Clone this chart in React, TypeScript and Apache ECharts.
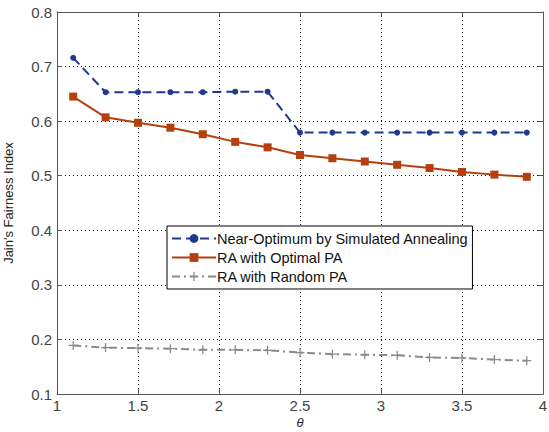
import React, { useEffect, useRef } from "react";
import * as echarts from "echarts";

// θ values shared by all curves
const theta = [1.1, 1.3, 1.5, 1.7, 1.9, 2.1, 2.3, 2.5, 2.7, 2.9, 3.1, 3.3, 3.5, 3.7, 3.9];

const nearOptimum = [0.716, 0.653, 0.653, 0.653, 0.653, 0.654, 0.654, 0.579, 0.579, 0.579, 0.579, 0.579, 0.579, 0.579, 0.579];
const optimalPA = [0.645, 0.607, 0.597, 0.588, 0.576, 0.562, 0.552, 0.538, 0.532, 0.526, 0.520, 0.514, 0.507, 0.502, 0.498];
const randomPA = [0.189, 0.185, 0.184, 0.183, 0.181, 0.181, 0.180, 0.176, 0.173, 0.172, 0.171, 0.167, 0.166, 0.163, 0.161];

const seriesNames = [
  "Near-Optimum by Simulated Annealing",
  "RA with Optimal PA",
  "RA with Random PA",
];

const pair = (ys: number[]) => theta.map((x, i) => [x, ys[i]]);

const plusSymbol = "path://M4.3,0H5.7V4.3H10V5.7H5.7V10H4.3V5.7H0V4.3H4.3Z";

export default function App() {
  const ref = useRef<HTMLDivElement>(null);

  useEffect(() => {
    if (!ref.current) return;
    const chart = echarts.init(ref.current, null, { renderer: "svg" });
    const font = "Liberation Sans, Arial, sans-serif";
    const axisColor = "#555";
    const labelColor = "#444";
    const gridLine = { show: true, lineStyle: { color: "#111", type: [1, 3] as any, width: 1 } };

    chart.setOption({
      animation: false,
      backgroundColor: "#fff",
      textStyle: { fontFamily: font },
      grid: {
        left: 57,
        right: 6,
        top: 12,
        bottom: 38,
        containLabel: false,
        outerBoundsMode: "none",
      },
      legend: {
        orient: "vertical",
        left: 167,
        top: 226,
        padding: [5, 4, 5, 4],
        itemGap: 4,
        itemWidth: 44,
        itemHeight: 11,
        borderColor: "#000",
        borderWidth: 1,
        borderRadius: 0,
        backgroundColor: "#fff",
        textStyle: { fontFamily: font, fontSize: 14.5, color: "#111", padding: [0, 0, 0, -4] },
        data: seriesNames,
      },
      xAxis: [
        {
          type: "value",
          min: 1,
          max: 4,
          interval: 0.5,
          name: "θ",
          nameLocation: "middle",
          nameGap: 22,
          nameMoveOverlap: false,
          nameTextStyle: { fontFamily: font, fontSize: 13, fontStyle: "italic", color: "#222" },
          axisLine: { show: true, lineStyle: { color: axisColor, width: 1 } },
          axisTick: { show: true, inside: true, length: 5, lineStyle: { color: axisColor } },
          axisLabel: {
            color: labelColor,
            fontSize: 15,
            margin: 4,
            formatter: (v: number) => String(v),
          },
          splitLine: gridLine,
        },
        {
          type: "value",
          position: "top",
          min: 1,
          max: 4,
          interval: 0.5,
          axisLine: { show: true, lineStyle: { color: axisColor, width: 1 } },
          axisTick: { show: true, inside: true, length: 5, lineStyle: { color: axisColor } },
          axisLabel: { show: false },
          splitLine: { show: false },
        },
      ],
      yAxis: [
        {
          type: "value",
          min: 0.1,
          max: 0.8,
          interval: 0.1,
          name: "Jain's Fairness Index",
          nameLocation: "middle",
          nameGap: 42,
          nameMoveOverlap: false,
          nameTextStyle: { fontFamily: font, fontSize: 13, color: "#222" },
          axisLine: { show: true, lineStyle: { color: axisColor, width: 1 } },
          axisTick: { show: true, inside: true, length: 5, lineStyle: { color: axisColor } },
          axisLabel: {
            color: labelColor,
            fontSize: 15,
            margin: 5,
            formatter: (v: number) => v.toFixed(1),
          },
          splitLine: gridLine,
        },
        {
          type: "value",
          position: "right",
          min: 0.1,
          max: 0.8,
          interval: 0.1,
          axisLine: { show: true, lineStyle: { color: axisColor, width: 1 } },
          axisTick: { show: true, inside: true, length: 5, lineStyle: { color: axisColor } },
          axisLabel: { show: false },
          splitLine: { show: false },
        },
      ],
      series: [
        {
          name: seriesNames[0],
          type: "line",
          data: pair(nearOptimum),
          symbol: "circle",
          symbolSize: 6,
          itemStyle: { color: "#1f3a8c" },
          lineStyle: { color: "#1f3a8c", width: 2, type: [9, 5] as any },
        },
        {
          name: seriesNames[1],
          type: "line",
          data: pair(optimalPA),
          symbol: "rect",
          symbolSize: 8,
          itemStyle: { color: "#b3400e" },
          lineStyle: { color: "#b3400e", width: 2 },
        },
        {
          name: seriesNames[2],
          type: "line",
          data: pair(randomPA),
          symbol: plusSymbol,
          symbolSize: 9,
          itemStyle: { color: "#8a8a8a" },
          lineStyle: { color: "#8a8a8a", width: 2, type: [8, 4, 2, 4] as any },
        },
      ],
    });
    return () => chart.dispose();
  }, []);

  return (
    <div
      ref={ref}
      style={{ position: "absolute", left: 0, top: 0, width: 549, height: 432 }}
    />
  );
}
